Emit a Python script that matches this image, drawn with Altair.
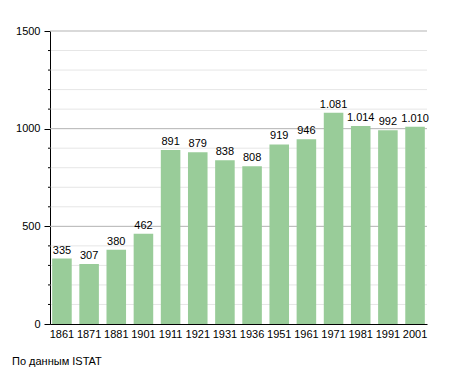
import altair as alt
import pandas as pd

years = ["1861", "1871", "1881", "1901", "1911", "1921", "1931", "1936", "1951", "1961", "1971", "1981", "1991", "2001"]
population = [335, 307, 380, 462, 891, 879, 838, 808, 919, 946, 1081, 1014, 992, 1010]
labels = ["335", "307", "380", "462", "891", "879", "838", "808", "919", "946", "1.081", "1.014", "992", "1.010"]
major_ticks = [0, 500, 1000, 1500]
minor_ticks = [100, 200, 300, 400, 600, 700, 800, 900, 1100, 1200, 1300, 1400]
source_note = "По данным  ISTAT"

df = pd.DataFrame({"year": years, "pop": population, "label": labels})
df_minor = pd.DataFrame({"v": minor_ticks})
df_major = pd.DataFrame({"v": major_ticks[1:]})

FONT = "Liberation Sans"
yscale = alt.Scale(domain=[0, 1500], nice=False)

xenc = alt.X("year:N", sort=years, title=None,
             scale=alt.Scale(paddingInner=0.28, paddingOuter=0.08),
             axis=alt.Axis(labelAngle=0, labelFontSize=11, labelColor="#000", labelFont=FONT,
                           domainColor="#000", ticks=False, labelPadding=4))

minor_grid = alt.Chart(df_minor).mark_rule(color="#e6e6e6", strokeWidth=1).encode(
    y=alt.Y("v:Q", scale=yscale, title=None)
)
major_grid = alt.Chart(df_major).mark_rule(color="#b3b3b3", strokeWidth=1).encode(
    y=alt.Y("v:Q", scale=yscale, title=None)
)
minor_tick = alt.Chart(df_minor).mark_rule(color="#000", strokeWidth=1).encode(
    y=alt.Y("v:Q", scale=yscale, title=None), x=alt.value(-2), x2=alt.value(1)
)

bars = alt.Chart(df).mark_bar(color="#99cc99").encode(
    x=xenc,
    y=alt.Y("pop:Q", scale=yscale, title=None,
            axis=alt.Axis(values=major_ticks, format="d", grid=False, labelOverlap=False,
                          tickSize=6, tickColor="#000", labelFontSize=11,
                          labelColor="#000", labelFont=FONT,
                          domainColor="#000", labelPadding=4)),
)

text = alt.Chart(df).mark_text(dy=-8, fontSize=11, font=FONT, color="#000").encode(
    x=alt.X("year:N", sort=years),
    y=alt.Y("pop:Q", scale=yscale),
    text="label:N",
)

note = alt.Chart(pd.DataFrame({"t": [source_note]})).mark_text(
    align="left", baseline="middle", fontSize=11, font=FONT, color="#000"
).encode(x=alt.value(-38), y=alt.value(331), text="t:N")

chart = alt.layer(minor_grid, major_grid, minor_tick, bars, text, note).properties(
    width=377, height=293,
    autosize=alt.AutoSizeParams(type="none"),
    padding={"left": 42, "top": 23, "right": 20, "bottom": 45},
).configure_view(stroke=None).configure_axis(domainWidth=1)

chart.save("out.html", embed_options={"renderer": "svg", "actions": False})
